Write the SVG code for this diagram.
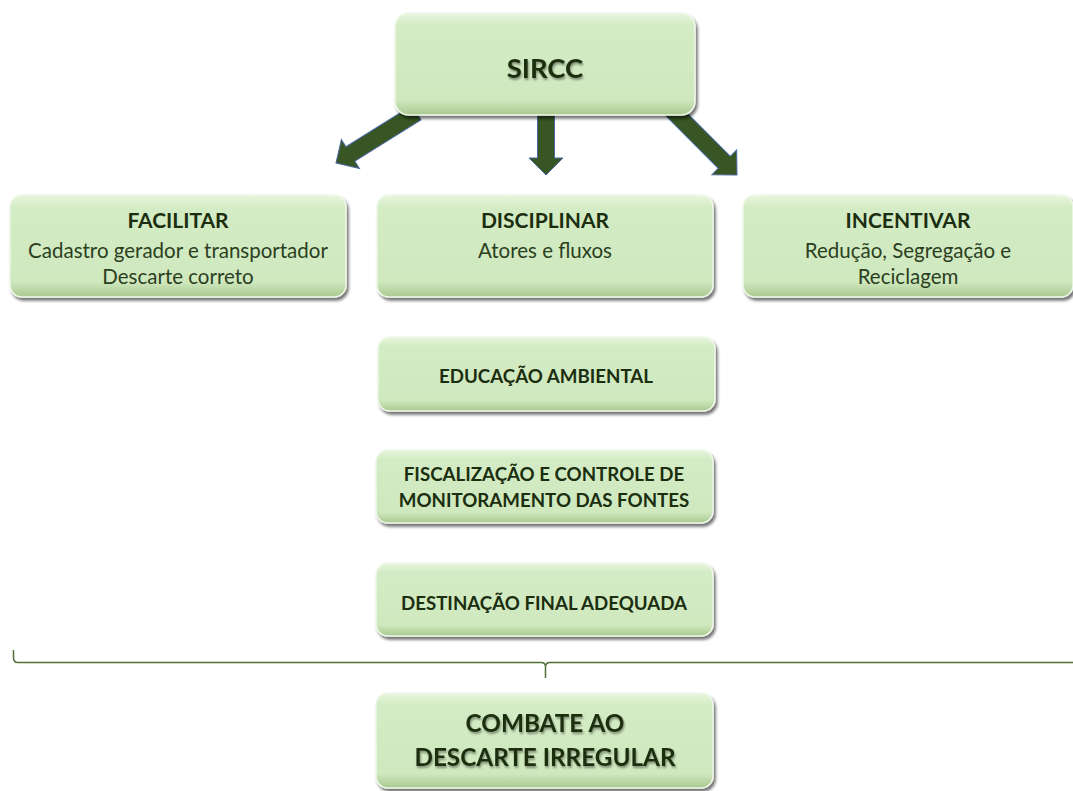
<svg xmlns="http://www.w3.org/2000/svg" width="1073" height="791" viewBox="0 0 1073 791">
<defs>
<linearGradient id="gbox" x1="0" y1="0" x2="0" y2="1">
<stop offset="0" stop-color="#e8f6de"/>
<stop offset="0.12" stop-color="#d4ecc5"/>
<stop offset="0.85" stop-color="#cfe8be"/>
<stop offset="1" stop-color="#a9c990"/>
</linearGradient>
<filter id="sh" x="-10%" y="-10%" width="120%" height="130%">
<feGaussianBlur in="SourceAlpha" stdDeviation="1.6"/>
<feOffset dx="1.5" dy="2.5" result="b"/>
<feComponentTransfer><feFuncA type="linear" slope="0.55"/></feComponentTransfer>
<feMerge><feMergeNode/><feMergeNode in="SourceGraphic"/></feMerge>
</filter>
<filter id="tsh" x="-10%" y="-20%" width="120%" height="150%">
<feGaussianBlur in="SourceAlpha" stdDeviation="1.2"/>
<feOffset dx="1" dy="2"/>
<feComponentTransfer><feFuncA type="linear" slope="0.4"/></feComponentTransfer>
<feMerge><feMergeNode/><feMergeNode in="SourceGraphic"/></feMerge>
</filter>
</defs>
<style>
.box{fill:url(#gbox);stroke:#eef8e8;stroke-width:1.5;filter:url(#sh)}
.t{font-family:Lato,"Liberation Sans",sans-serif;fill:#1b2e10;text-anchor:middle}
.b{font-weight:bold}
.h{font-size:21px}
.m{font-size:18.7px}
.s{font-size:20.5px;fill:#2b3f1f}
.arr{fill:#375623;stroke:#4a68a8;stroke-width:1}
.brace{fill:none;stroke:#4f7035;stroke-width:1.5}
</style>
<g id="connectors">
<polygon class="arr" transform="translate(336,163) rotate(148)" points="0,0 -17,-17 -17,-8.5 -95,-8.5 -95,8.5 -17,8.5 -17,17"/>
<polygon class="arr" transform="translate(546,175) rotate(90)" points="0,0 -17,-17 -17,-8.5 -65,-8.5 -65,8.5 -17,8.5 -17,17"/>
<polygon class="arr" transform="translate(737,175) rotate(45)" points="0,0 -18,-17.5 -18,-8.5 -95,-8.5 -95,8.5 -18,8.5 -18,17.5"/>
<path class="brace" d="M13.5,650 V658 Q13.5,662.5 18,662.5 H541 Q545.5,662.5 545.5,667 V678 M545.5,667 Q545.5,662.5 550,662.5 H1073"/>
</g>
<g id="sircc">
<rect class="box" x="395" y="13" width="300" height="102" rx="14"/>
<text class="t b" x="545" y="78" font-size="27.5" filter="url(#tsh)">SIRCC</text>
</g>
<g id="facilitar">
<rect class="box" x="10" y="195" width="336" height="102" rx="12"/>
<text class="t b h" x="178" y="228">FACILITAR</text>
<text class="t s" x="178" y="258">Cadastro gerador e transportador</text>
<text class="t s" x="178" y="284">Descarte correto</text>
</g>
<g id="disciplinar">
<rect class="box" x="377" y="195" width="336" height="102" rx="12"/>
<text class="t b h" x="545" y="228">DISCIPLINAR</text>
<text class="t s" x="545" y="258">Atores e fluxos</text>
</g>
<g id="incentivar">
<rect class="box" x="743" y="195" width="330" height="102" rx="12"/>
<text class="t b h" x="908" y="228">INCENTIVAR</text>
<text class="t s" x="908" y="258">Redução, Segregação e</text>
<text class="t s" x="908" y="284">Reciclagem</text>
</g>
<g id="educacao">
<rect class="box" x="378" y="337" width="337" height="74" rx="12"/>
<text class="t b m" x="546" y="383">EDUCAÇÃO AMBIENTAL</text>
</g>
<g id="fiscalizacao">
<rect class="box" x="376" y="450" width="337" height="73" rx="12"/>
<text class="t b m" x="544" y="481">FISCALIZAÇÃO E CONTROLE DE</text>
<text class="t b m" x="544" y="507">MONITORAMENTO DAS FONTES</text>
</g>
<g id="destinacao">
<rect class="box" x="376" y="563" width="337" height="73" rx="12"/>
<text class="t b m" x="544" y="610">DESTINAÇÃO FINAL ADEQUADA</text>
</g>
<g id="combate">
<rect class="box" x="376" y="693" width="337" height="95" rx="12"/>
<text class="t b" x="545" y="732" font-size="24.3" filter="url(#tsh)">COMBATE AO</text>
<text class="t b" x="545" y="766" font-size="24.3" filter="url(#tsh)">DESCARTE IRREGULAR</text>
</g>
</svg>
